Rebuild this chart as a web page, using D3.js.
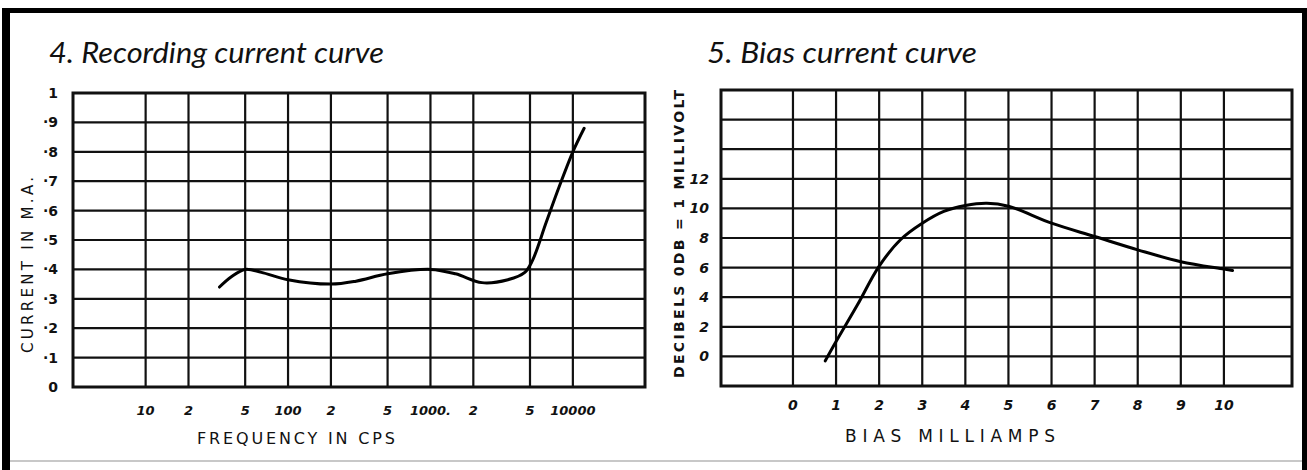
<!DOCTYPE html>
<html>
<head>
<meta charset="utf-8">
<script src="https://cdn.jsdelivr.net/npm/d3@7"></script>
<style>
  html, body { margin: 0; padding: 0; background: #fff; }
  svg { display: block; }
  .hand { font-family: "DejaVu Sans", sans-serif; font-weight: bold; fill: #111; }
  .title { font-family: Lato, "Open Sans", sans-serif; font-style: italic; fill: #111; }
</style>
</head>
<body>
<div id="chart"></div>
<script>
// 4. Recording current curve
const freqHz = [33, 40, 50, 65, 100, 200, 300, 500, 1000, 1500, 2300, 3500, 4600, 5200, 6500, 8000, 10000, 12000];
const recCurrent = [0.34, 0.375, 0.40, 0.39, 0.365, 0.35, 0.36, 0.385, 0.40, 0.385, 0.355, 0.365, 0.39, 0.43, 0.56, 0.68, 0.80, 0.88];
const freqGrid = [10, 20, 50, 100, 200, 500, 1000, 2000, 5000, 10000];
const freqTickLabels = ["10", "2", "5", "100", "2", "5", "1000.", "2", "5", "10000"];
const currentGrid = [0, 0.1, 0.2, 0.3, 0.4, 0.5, 0.6, 0.7, 0.8, 0.9, 1];
const currentTickLabels = ["0", "·1", "·2", "·3", "·4", "·5", "·6", "·7", "·8", "·9", "1"];

// 5. Bias current curve
const biasMa = [0.75, 1.0, 1.5, 2.0, 2.5, 3.0, 3.5, 4.0, 4.5, 5.0, 6.0, 7.0, 8.0, 9.0, 10.0, 10.2];
const biasDb = [-0.3, 1.0, 3.5, 6.1, 7.9, 9.0, 9.8, 10.2, 10.35, 10.15, 9.0, 8.1, 7.2, 6.4, 5.9, 5.8];
const biasGrid = [0, 1, 2, 3, 4, 5, 6, 7, 8, 9, 10];
const dbGrid = [-2, 0, 2, 4, 6, 8, 10, 12, 14, 16, 18];
const dbTickLabels = [0, 2, 4, 6, 8, 10, 12];

const width = 1307, height = 470;
const svg = d3.select("#chart").append("svg")
  .attr("width", width)
  .attr("height", height);

// page frame
svg.append("rect").attr("x", 2).attr("y", 8).attr("width", 8).attr("height", height - 8).attr("fill", "#000");
svg.append("rect").attr("x", 2).attr("y", 8).attr("width", width - 2).attr("height", 5).attr("fill", "#000");
svg.append("rect").attr("x", 1302).attr("y", 8).attr("width", 5).attr("height", height - 8).attr("fill", "#000");
svg.append("line").attr("x1", 10).attr("x2", 1302).attr("y1", 461).attr("y2", 461)
  .attr("stroke", "#c8c8c8").attr("stroke-width", 2);

function drawGrid(g, x, y, xVals, yVals) {
  const [x0, x1] = x.range();
  const [y0, y1] = y.range();
  g.selectAll(".vgrid").data(xVals).join("line")
    .attr("x1", d => x(d)).attr("x2", d => x(d))
    .attr("y1", y1).attr("y2", y0)
    .attr("stroke", "#111").attr("stroke-width", 2.2);
  g.selectAll(".hgrid").data(yVals).join("line")
    .attr("x1", x0).attr("x2", x1)
    .attr("y1", d => y(d)).attr("y2", d => y(d))
    .attr("stroke", "#111").attr("stroke-width", 2.2);
  g.append("rect")
    .attr("x", x0).attr("y", y1)
    .attr("width", x1 - x0).attr("height", y0 - y1)
    .attr("fill", "none").attr("stroke", "#111").attr("stroke-width", 3);
}

function drawCurve(g, x, y, xs, ys) {
  const line = d3.line()
    .x(d => x(d[0]))
    .y(d => y(d[1]))
    .curve(d3.curveCatmullRom.alpha(0.5));
  g.append("path")
    .datum(d3.zip(xs, ys))
    .attr("d", line)
    .attr("fill", "none")
    .attr("stroke", "#000")
    .attr("stroke-width", 3)
    .attr("stroke-linecap", "round");
}

// ---------- left panel ----------
const left = svg.append("g");
const xFreq = d3.scaleLog().domain([3.09, 32100]).range([73, 645]);
const yCur = d3.scaleLinear().domain([0, 1]).range([387, 93]);

drawGrid(left, xFreq, yCur, freqGrid, currentGrid.slice(1, -1));
drawCurve(left, xFreq, yCur, freqHz, recCurrent);

left.selectAll(".xlab").data(freqGrid).join("text")
  .attr("class", "hand")
  .attr("x", d => xFreq(d))
  .attr("y", 415)
  .attr("text-anchor", "middle")
  .style("font-size", "13px")
  .style("font-style", "italic")
  .text((d, i) => freqTickLabels[i]);

left.selectAll(".ylab").data(currentGrid).join("text")
  .attr("class", "hand")
  .attr("x", 58)
  .attr("y", d => yCur(d))
  .attr("dy", "0.35em")
  .attr("text-anchor", "end")
  .style("font-size", "14px")
  .text((d, i) => currentTickLabels[i]);

left.append("text")
  .attr("class", "title")
  .attr("x", 49).attr("y", 63)
  .attr("textLength", 335)
  .attr("lengthAdjust", "spacingAndGlyphs")
  .style("font-size", "28px")
  .text("4.  Recording current curve");

left.append("text")
  .attr("class", "hand")
  .attr("x", 296).attr("y", 444)
  .attr("text-anchor", "middle")
  .attr("textLength", 198)
  .style("font-size", "16px")
  .style("font-weight", "normal")
  .text("FREQUENCY IN CPS");

left.append("text")
  .attr("class", "hand")
  .attr("transform", "translate(33,265) rotate(-90)")
  .attr("text-anchor", "middle")
  .attr("textLength", 176)
  .style("font-size", "15px")
  .style("font-weight", "normal")
  .text("CURRENT IN M.A.");

// ---------- right panel ----------
const right = svg.append("g");
const xBias = d3.scaleLinear().domain([-1.67, 11.58]).range([721, 1292]);
const yDb = d3.scaleLinear().domain([-2, 18]).range([386, 90]);

drawGrid(right, xBias, yDb, biasGrid, dbGrid.slice(1, -1));
drawCurve(right, xBias, yDb, biasMa, biasDb);

right.selectAll(".xlab").data(biasGrid).join("text")
  .attr("class", "hand")
  .attr("x", d => xBias(d))
  .attr("y", 410)
  .attr("text-anchor", "middle")
  .style("font-size", "14px")
  .style("font-style", "italic")
  .text(d => d);

right.selectAll(".ylab").data(dbTickLabels).join("text")
  .attr("class", "hand")
  .attr("x", 709)
  .attr("y", d => yDb(d))
  .attr("dy", "0.35em")
  .attr("text-anchor", "end")
  .style("font-size", "14px")
  .style("font-style", "italic")
  .text(d => d);

right.append("text")
  .attr("class", "title")
  .attr("x", 707).attr("y", 63)
  .attr("textLength", 270)
  .attr("lengthAdjust", "spacingAndGlyphs")
  .style("font-size", "28px")
  .text("5.  Bias current curve");

right.append("text")
  .attr("class", "hand")
  .attr("x", 950).attr("y", 442)
  .attr("text-anchor", "middle")
  .attr("textLength", 210)
  .style("font-size", "17px")
  .style("font-weight", "normal")
  .text("BIAS   MILLIAMPS");

right.append("text")
  .attr("class", "hand")
  .attr("transform", "translate(684,234) rotate(-90)")
  .attr("text-anchor", "middle")
  .attr("textLength", 288)
  .style("font-size", "14px")
  .text("DECIBELS  0DB = 1 MILLIVOLT");
</script>
</body>
</html>
